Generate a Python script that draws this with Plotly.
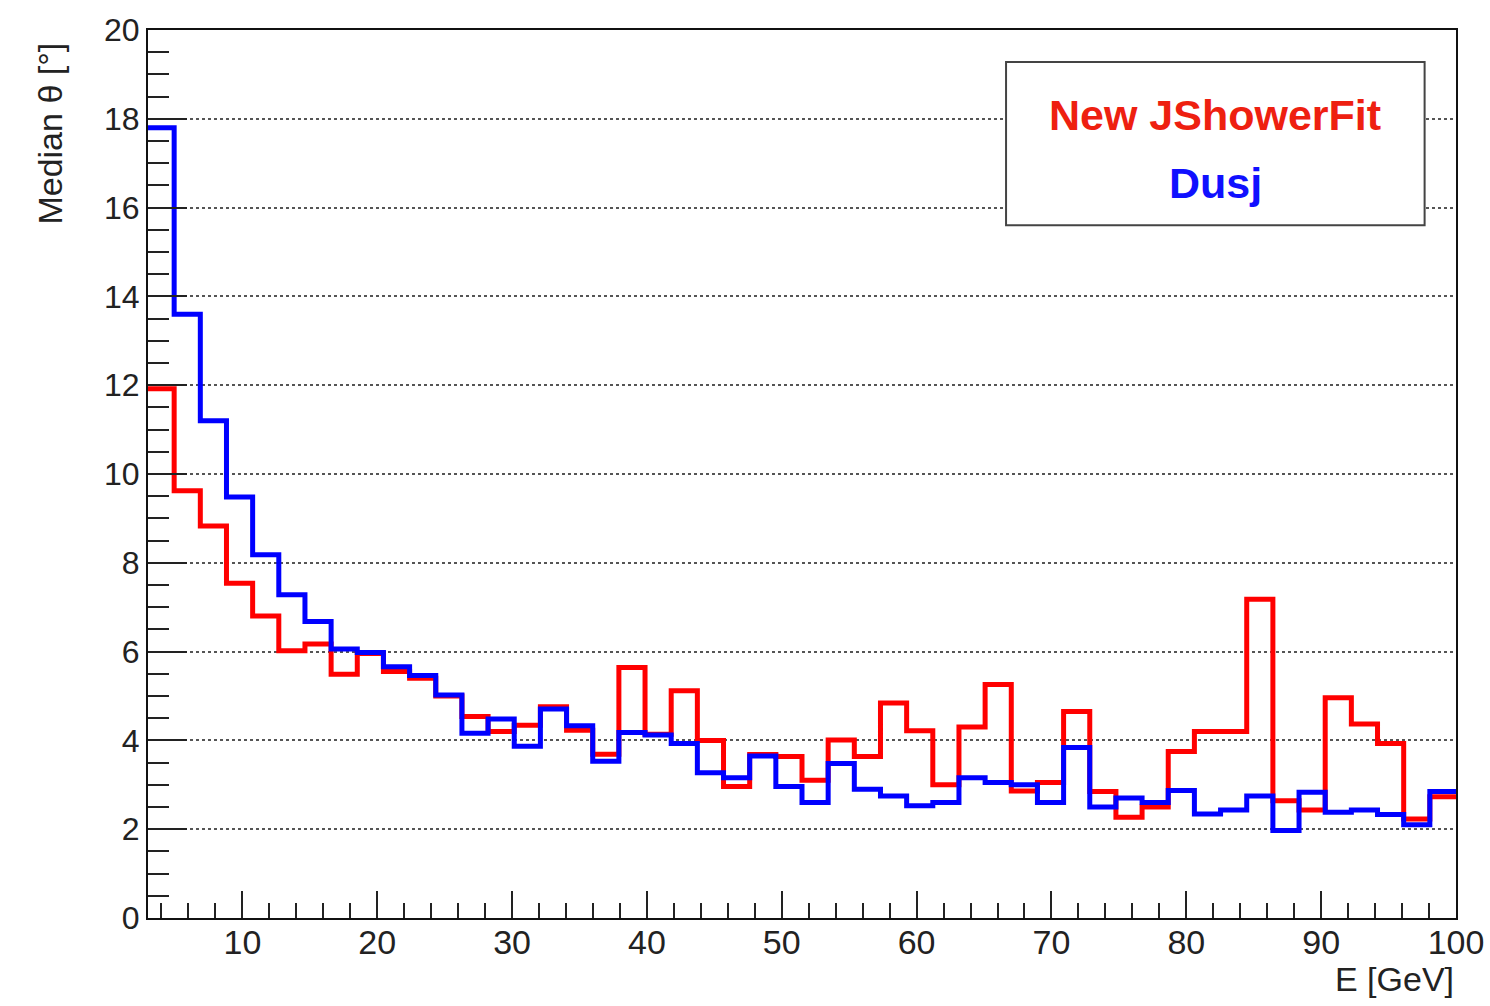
import numpy as np
import plotly.graph_objects as go

# ---- data ----
E_MIN, E_MAX, N_BINS = 3.0, 100.0, 50

new_jshowerfit = [11.92, 9.62, 8.83, 7.54, 6.80, 6.02, 6.17, 5.49, 5.96, 5.55,
                  5.40, 5.00, 4.54, 4.20, 4.34, 4.76, 4.23, 3.69, 5.64, 4.14,
                  5.12, 4.00, 2.96, 3.68, 3.64, 3.10, 4.01, 3.64, 4.84, 4.22,
                  3.00, 4.30, 5.26, 2.86, 3.05, 4.65, 2.85, 2.27, 2.50, 3.75,
                  4.20, 4.20, 7.18, 2.64, 2.43, 4.96, 4.37, 3.93, 2.23, 2.73]

dusj = [17.80, 13.60, 11.20, 9.48, 8.18, 7.28, 6.68, 6.06, 5.98, 5.66,
        5.46, 5.02, 4.16, 4.48, 3.87, 4.71, 4.33, 3.53, 4.18, 4.12,
        3.93, 3.27, 3.16, 3.65, 2.96, 2.60, 3.48, 2.90, 2.75, 2.53,
        2.60, 3.16, 3.05, 3.00, 2.60, 3.84, 2.50, 2.70, 2.60, 2.87,
        2.34, 2.43, 2.75, 1.97, 2.83, 2.38, 2.43, 2.33, 2.10, 2.85]

series_names = ["New JShowerFit", "Dusj"]
x_title = "E [GeV]"
y_title = "Median \u03b8 [\u00b0]"

edges = np.linspace(E_MIN, E_MAX, N_BINS + 1)

FONT = "Liberation Sans, Arial, Helvetica, sans-serif"


def step_trace(vals, color, name):
    y = list(vals) + [vals[-1]]
    return go.Scatter(x=edges, y=y, mode="lines", line_shape="hv",
                      line=dict(color=color, width=5), name=name,
                      showlegend=False, hoverinfo="skip")


fig = go.Figure()
fig.add_trace(step_trace(new_jshowerfit, "#ff0000", series_names[0]))
fig.add_trace(step_trace(dusj, "#0000ff", series_names[1]))

fig.update_layout(
    width=1490, height=1006,
    margin=dict(l=148, r=34, t=30, b=88),
    paper_bgcolor="white", plot_bgcolor="white",
    showlegend=False,
    font=dict(family=FONT, color="#222"),
    xaxis=dict(
        range=[E_MIN, E_MAX], tickmode="linear", tick0=0, dtick=10,
        ticks="inside", ticklen=27, tickwidth=2, tickcolor="#222",
        showgrid=False, zeroline=False, automargin=False,
        showline=True, linecolor="#111", linewidth=2, mirror=True,
        tickfont=dict(size=34, family=FONT, color="#222"),
        ticklabelstandoff=-7,
        minor=dict(ticks="inside", ticklen=15, tickwidth=2, tickcolor="#222",
                   tick0=0, dtick=2, showgrid=False),
    ),
    yaxis=dict(
        range=[0, 20], tickmode="linear", tick0=0, dtick=2,
        ticks="inside", ticklen=39, tickwidth=2, tickcolor="#222",
        showgrid=True, gridcolor="#555", griddash="dot", gridwidth=2,
        zeroline=False, automargin=False,
        showline=True, linecolor="#111", linewidth=2, mirror=True,
        tickfont=dict(size=32, family=FONT, color="#222"),
        minor=dict(ticks="inside", ticklen=21, tickwidth=2, tickcolor="#222",
                   tick0=0, dtick=0.5, showgrid=False),
    ),
)

# legend box (ROOT TLegend style)
fig.add_shape(type="rect", xref="paper", yref="paper",
              x0=0.656, x1=0.976, y0=0.780, y1=0.964,
              line=dict(color="#444", width=2), fillcolor="white", layer="above")
fig.add_annotation(xref="paper", yref="paper", x=0.816, y=0.904,
                   text="<b>" + series_names[0] + "</b>", showarrow=False,
                   font=dict(family=FONT, size=43, color="#ee2010"),
                   xanchor="center", yanchor="middle")
fig.add_annotation(xref="paper", yref="paper", x=0.816, y=0.828,
                   text="<b>" + series_names[1] + "</b>", showarrow=False,
                   font=dict(family=FONT, size=43, color="#1010ff"),
                   xanchor="center", yanchor="middle")

# axis titles
fig.add_annotation(xref="paper", yref="paper", x=1.0, y=-0.0687,
                   text=x_title, showarrow=False,
                   font=dict(family=FONT, size=34, color="#222"),
                   xanchor="right", yanchor="middle")
fig.add_annotation(xref="paper", yref="paper", x=-0.0749, y=0.8834,
                   text=y_title, showarrow=False, textangle=-90,
                   font=dict(family=FONT, size=34, color="#222"),
                   xanchor="center", yanchor="middle")

fig.write_html("out.html")
